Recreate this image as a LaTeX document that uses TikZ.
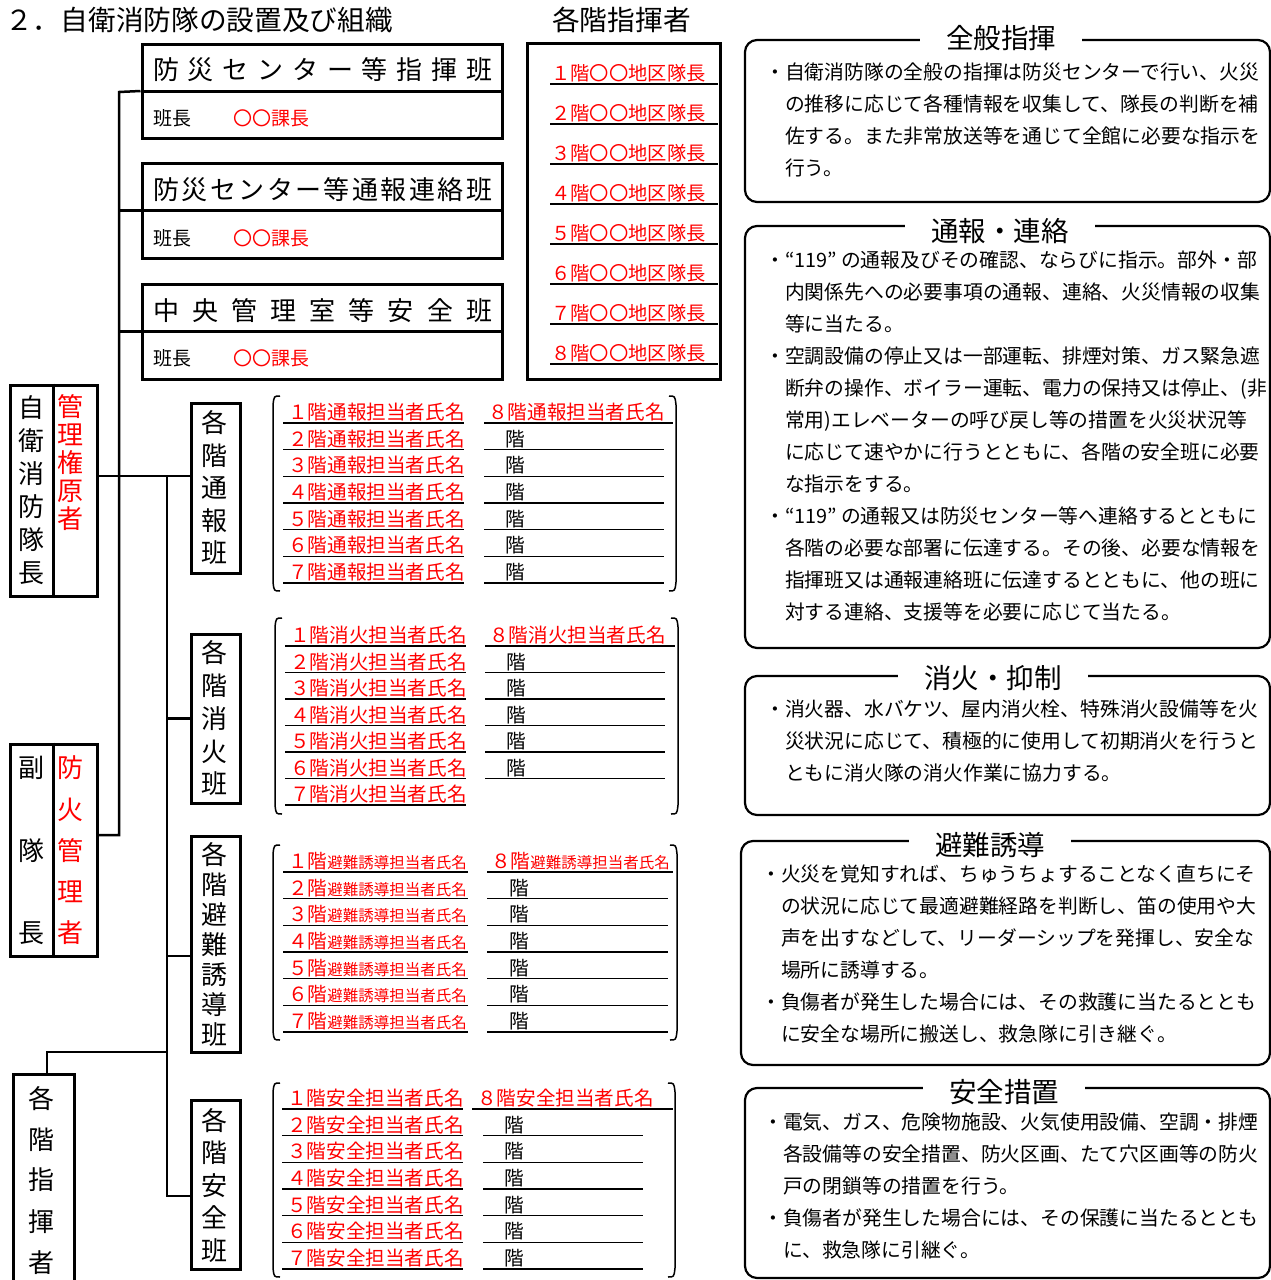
\documentclass[tikz,border=0pt]{standalone}
\usepackage{fontspec}
\setmainfont{Noto Sans CJK JP}
\tikzset{
  orgbox/.style={draw, line width=3pt, inner sep=0pt},
  link/.style={line width=2.5pt},
  vtext/.style={align=center, inner sep=0pt, font=\fontsize{26}{32.5}\selectfont},
  teamtitle/.style={anchor=west, inner sep=0pt, font=\fontsize{26}{26}\selectfont},
  lead/.style={anchor=west, inner sep=0pt, font=\fontsize{19}{19}\selectfont},
  rowred/.style={anchor=base west, inner sep=0pt, text=red, font=\fontsize{19.6}{20}\selectfont},
  rowblack/.style={anchor=base west, inner sep=0pt, font=\fontsize{19.6}{20}\selectfont},
  uline/.style={line width=1.2pt},
  brace/.style={line width=1.5pt},
  duty/.style={draw, line width=2.2pt, rounded corners=12pt},
  dutyhead/.style={fill=white, inner xsep=26pt, inner ysep=2pt, font=\fontsize{27.5}{28}\selectfont},
  dutytext/.style={anchor=north west, align=left, inner sep=0pt, font=\fontsize{19.8}{32}\selectfont},
}
\newcommand{\narrowname}{\fontsize{15.5}{16}\selectfont}
\begin{document}
\begin{tikzpicture}[x=1pt,y=-1pt]
\useasboundingbox (0,0) rectangle (1271,1280);
\clip (0,0) rectangle (1271,1280);

% headings
\node[anchor=west, inner sep=0pt, font=\fontsize{27.7}{28}\selectfont] (title) at (5,20) {２．自衛消防隊の設置及び組織};
\node[inner sep=0pt, font=\fontsize{27.7}{28}\selectfont] (floorhead) at (621.5,20) {各階指揮者};

% center teams
\node[orgbox, minimum width=360pt, minimum height=94pt] (cmd) at (322,91) {};
\node[orgbox, minimum width=360pt, minimum height=95pt] (rep) at (322,210.5) {};
\node[orgbox, minimum width=360pt, minimum height=95pt] (ctl) at (322,331.5) {};
\foreach \t in {cmd,rep,ctl}
  \draw[line width=3pt] (\t.west) -- (\t.east);
\node[teamtitle] (cmdname) at (153,70) {\makebox[339pt][s]{防\hfill 災\hfill セ\hfill ン\hfill タ\hfill ー\hfill 等\hfill 指\hfill 揮\hfill 班}};
\node[teamtitle] (repname) at (153,190) {\makebox[339pt][s]{防\hfill 災\hfill セ\hfill ン\hfill タ\hfill ー\hfill 等\hfill 通\hfill 報\hfill 連\hfill 絡\hfill 班}};
\node[teamtitle] (ctlname) at (153,311) {\makebox[339pt][s]{中\hfill 央\hfill 管\hfill 理\hfill 室\hfill 等\hfill 安\hfill 全\hfill 班}};
\node[lead] (cmdlead) at (153,118) {班長};
\node[lead, text=red] (cmdchief) at (233,118) {〇〇課長};
\node[lead] (replead) at (153,238) {班長};
\node[lead, text=red] (repchief) at (233,238) {〇〇課長};
\node[lead] (ctllead) at (153,358) {班長};
\node[lead, text=red] (ctlchief) at (233,358) {〇〇課長};

% floor leaders
\node[orgbox, minimum width=193pt, minimum height=336pt] (floors) at (623.5,211) {};
\foreach \n [count=\i from 0] in {１,２,３,４,５,６,７,８} {
  \node[rowred, font=\fontsize{19.3}{20}\selectfont] (fl\i) at (551,80+40*\i) {\n 階〇〇地区隊長};
  \draw[uline] (550,84+40*\i) -- (718,84+40*\i);
}

% chief and vice chief
\node[orgbox, minimum width=87pt, minimum height=211pt] (chief) at (53.5,490.5) {};
\draw[line width=3pt] (chief.north) -- (chief.south);
\node[vtext, font=\fontsize{26}{33}\selectfont] (chiefL) at (32,490.5) {自\\衛\\消\\防\\隊\\長};
\node[vtext, text=red, font=\fontsize{26}{28}\selectfont] (chiefR) at (70,463) {管\\理\\権\\原\\者};
\node[orgbox, minimum width=87pt, minimum height=212pt] (vice) at (53.5,850) {};
\draw[line width=3pt] (vice.north) -- (vice.south);
\node[vtext, font=\fontsize{26}{82.5}\selectfont] (viceL) at (32,850.5) {副\\隊\\長};
\node[vtext, text=red, font=\fontsize{26}{41.25}\selectfont] (viceR) at (70,850.5) {防\\火\\管\\理\\者};
\node[orgbox, minimum width=61pt, minimum height=216pt] (floorcmd) at (43.5,1182) {};
\node[vtext, font=\fontsize{26}{41}\selectfont] (floorcmdT) at (41,1180) {各\\階\\指\\揮\\者};

% floor teams
\node[orgbox, minimum width=49pt, minimum height=170pt] (rpt) at (215.5,488) {};
\node[vtext] (rptT) at (214,488) {各\\階\\通\\報\\班};
\node[orgbox, minimum width=49pt, minimum height=169pt] (ext) at (215.5,718.5) {};
\node[vtext, font=\fontsize{26}{32.75}\selectfont] (extT) at (214,718.5) {各\\階\\消\\火\\班};
\node[orgbox, minimum width=49pt, minimum height=216pt] (evc) at (215.5,944) {};
\node[vtext, font=\fontsize{26}{30}\selectfont] (evcT) at (214,945) {各\\階\\避\\難\\誘\\導\\班};
\node[orgbox, minimum width=49pt, minimum height=169pt] (saf) at (215.5,1184.5) {};
\node[vtext] (safT) at (214,1185) {各\\階\\安\\全\\班};

% links
\coordinate (ja) at (119,92);
\coordinate (jb) at (119,835);
\draw[link] (cmd.west) -- (ja) -- (jb) -- (vice.east |- jb);
\draw[link] (rep.west) -- (rep.west -| ja);
\draw[link] (ctl.west) -- (ctl.west -| ja);
\coordinate (ka) at (167,476);
\coordinate (kb) at (167,1196);
\coordinate (kc) at (167,956);
\coordinate (kd) at (167,1052);
\draw[link] (chief.east |- ka) -- (rpt.west |- ka);
\draw[link] (ka) -- (kb) -- (saf.west |- kb);
\draw[link] (ext.west) -- (ext.west -| ka);
\draw[link] (kc) -- (evc.west |- kc);
\draw[link] (kd) -| ([xshift=3.5pt]floorcmd.north);

% report list
\foreach \n [count=\i from 0] in {１,２,３,４,５,６,７} {
  \node[rowred] (rpL\i) at (288,419.5+26.67*\i) {\n 階通報担当者氏名};
  \draw[uline] (283,423+26.67*\i) -- (464,423+26.67*\i);
}
\node[rowred] (rpR0) at (488,419.5) {８階通報担当者氏名};
\draw[uline] (484,423) -- (673,423);
\foreach \i in {1,...,6} {
  \node[rowblack] (rpR\i) at (505,419.5+26.67*\i) {階};
  \draw[uline] (484,423+26.67*\i) -- (664,423+26.67*\i);
}
\draw[brace] (280,396) .. controls (274,396) .. (273,405) -- (273,582) .. controls (274,591) .. (280,591);
\draw[brace] (669,396) .. controls (675,396) .. (676,405) -- (676,582) .. controls (675,591) .. (669,591);

% extinguish list
\foreach \n [count=\i from 0] in {１,２,３,４,５,６,７} {
  \node[rowred] (exL\i) at (290,642.5+26.5*\i) {\n 階消火担当者氏名};
  \draw[uline] (285,646+26.5*\i) -- (466,646+26.5*\i);
}
\node[rowred] (exR0) at (489,642.5) {８階消火担当者氏名};
\draw[uline] (485,646) -- (675,646);
\foreach \i in {1,...,5} {
  \node[rowblack] (exR\i) at (506,642.5+26.5*\i) {階};
  \draw[uline] (485,646+26.5*\i) -- (665,646+26.5*\i);
}
\draw[brace] (282,618) .. controls (276,618) .. (275,627) -- (275,805) .. controls (276,814) .. (282,814);
\draw[brace] (671,618) .. controls (677,618) .. (678,627) -- (678,805) .. controls (677,814) .. (671,814);

% evacuation list
\foreach \n [count=\i from 0] in {１,２,３,４,５,６,７} {
  \node[rowred] (evL\i) at (288,868.5+26.67*\i) {\n 階{\narrowname 避難誘導担当者氏名}};
  \draw[uline] (283,872+26.67*\i) -- (468,872+26.67*\i);
}
\node[rowred] (evR0) at (491,868.5) {８階{\narrowname 避難誘導担当者氏名}};
\draw[uline] (487,872) -- (673,872);
\foreach \i in {1,...,6} {
  \node[rowblack] (evR\i) at (509,868.5+26.67*\i) {階};
  \draw[uline] (487,872+26.67*\i) -- (668,872+26.67*\i);
}
\draw[brace] (280,845) .. controls (274,845) .. (273,854) -- (273,1031) .. controls (274,1040) .. (280,1040);
\draw[brace] (670,845) .. controls (676,845) .. (677,854) -- (677,1031) .. controls (676,1040) .. (670,1040);

% safety list
\foreach \n [count=\i from 0] in {１,２,３,４,５,６,７} {
  \node[rowred] (sfL\i) at (287,1105.5+26.67*\i) {\n 階安全担当者氏名};
  \draw[uline] (282,1109+26.67*\i) -- (463,1109+26.67*\i);
}
\node[rowred] (sfR0) at (477,1105.5) {８階安全担当者氏名};
\draw[uline] (472,1109) -- (673,1109);
\foreach \i in {1,...,6} {
  \node[rowblack] (sfR\i) at (504,1105.5+26.67*\i) {階};
  \draw[uline] (483,1109+26.67*\i) -- (643,1109+26.67*\i);
}
\draw[brace] (280,1083) .. controls (274,1083) .. (273,1092) -- (273,1268) .. controls (274,1277) .. (280,1277);
\draw[brace] (668,1083) .. controls (674,1083) .. (675,1092) -- (675,1268) .. controls (674,1277) .. (668,1277);

% duties
\draw[duty] (745,40) rectangle (1270,202);
\node[dutyhead] (hgen) at (1001,38) {全般指揮};
\node[dutytext] (tgen) at (765,62.5) {・自衛消防隊の全般の指揮は防災センターで行い、火災\\
\hspace*{1em}の推移に応じて各種情報を収集して、隊長の判断を補\\
\hspace*{1em}佐する。また非常放送等を通じて全館に必要な指示を\\
\hspace*{1em}行う。};

\draw[duty] (745,226) rectangle (1270,648);
\node[dutyhead] (hrep) at (1000,231) {通報・連絡};
\node[dutytext] (trep) at (765,250.5) {・“119” の通報及びその確認、ならびに指示。部外・部\\
\hspace*{1em}内関係先への必要事項の通報、連絡、火災情報の収集\\
\hspace*{1em}等に当たる。\\
・空調設備の停止又は一部運転、排煙対策、ガス緊急遮\\
\hspace*{1em}断弁の操作、ボイラー運転、電力の保持又は停止、(非\\
\hspace*{1em}常用)エレベーターの呼び戻し等の措置を火災状況等\\
\hspace*{1em}に応じて速やかに行うとともに、各階の安全班に必要\\
\hspace*{1em}な指示をする。\\
・“119” の通報又は防災センター等へ連絡するとともに\\
\hspace*{1em}各階の必要な部署に伝達する。その後、必要な情報を\\
\hspace*{1em}指揮班又は通報連絡班に伝達するとともに、他の班に\\
\hspace*{1em}対する連絡、支援等を必要に応じて当たる。};

\draw[duty] (745,676) rectangle (1270,815);
\node[dutyhead] (hext) at (993,678) {消火・抑制};
\node[dutytext] (text) at (765,699.5) {・消火器、水バケツ、屋内消火栓、特殊消火設備等を火\\
\hspace*{1em}災状況に応じて、積極的に使用して初期消火を行うと\\
\hspace*{1em}ともに消火隊の消火作業に協力する。};

\draw[duty] (741,841) rectangle (1270,1065);
\node[dutyhead] (hevc) at (990,845) {避難誘導};
\node[dutytext] (tevc) at (761,864.5) {・火災を覚知すれば、ちゅうちょすることなく直ちにそ\\
\hspace*{1em}の状況に応じて最適避難経路を判断し、笛の使用や大\\
\hspace*{1em}声を出すなどして、リーダーシップを発揮し、安全な\\
\hspace*{1em}場所に誘導する。\\
・負傷者が発生した場合には、その救護に当たるととも\\
\hspace*{1em}に安全な場所に搬送し、救急隊に引き継ぐ。};

\draw[duty] (745,1088) rectangle (1270,1278);
\node[dutyhead] (hsaf) at (1004,1092) {安全措置};
\node[dutytext] (tsaf) at (763,1112.5) {・電気、ガス、危険物施設、火気使用設備、空調・排煙\\
\hspace*{1em}各設備等の安全措置、防火区画、たて穴区画等の防火\\
\hspace*{1em}戸の閉鎖等の措置を行う。\\
・負傷者が発生した場合には、その保護に当たるととも\\
\hspace*{1em}に、救急隊に引継ぐ。};
\end{tikzpicture}
\end{document}
